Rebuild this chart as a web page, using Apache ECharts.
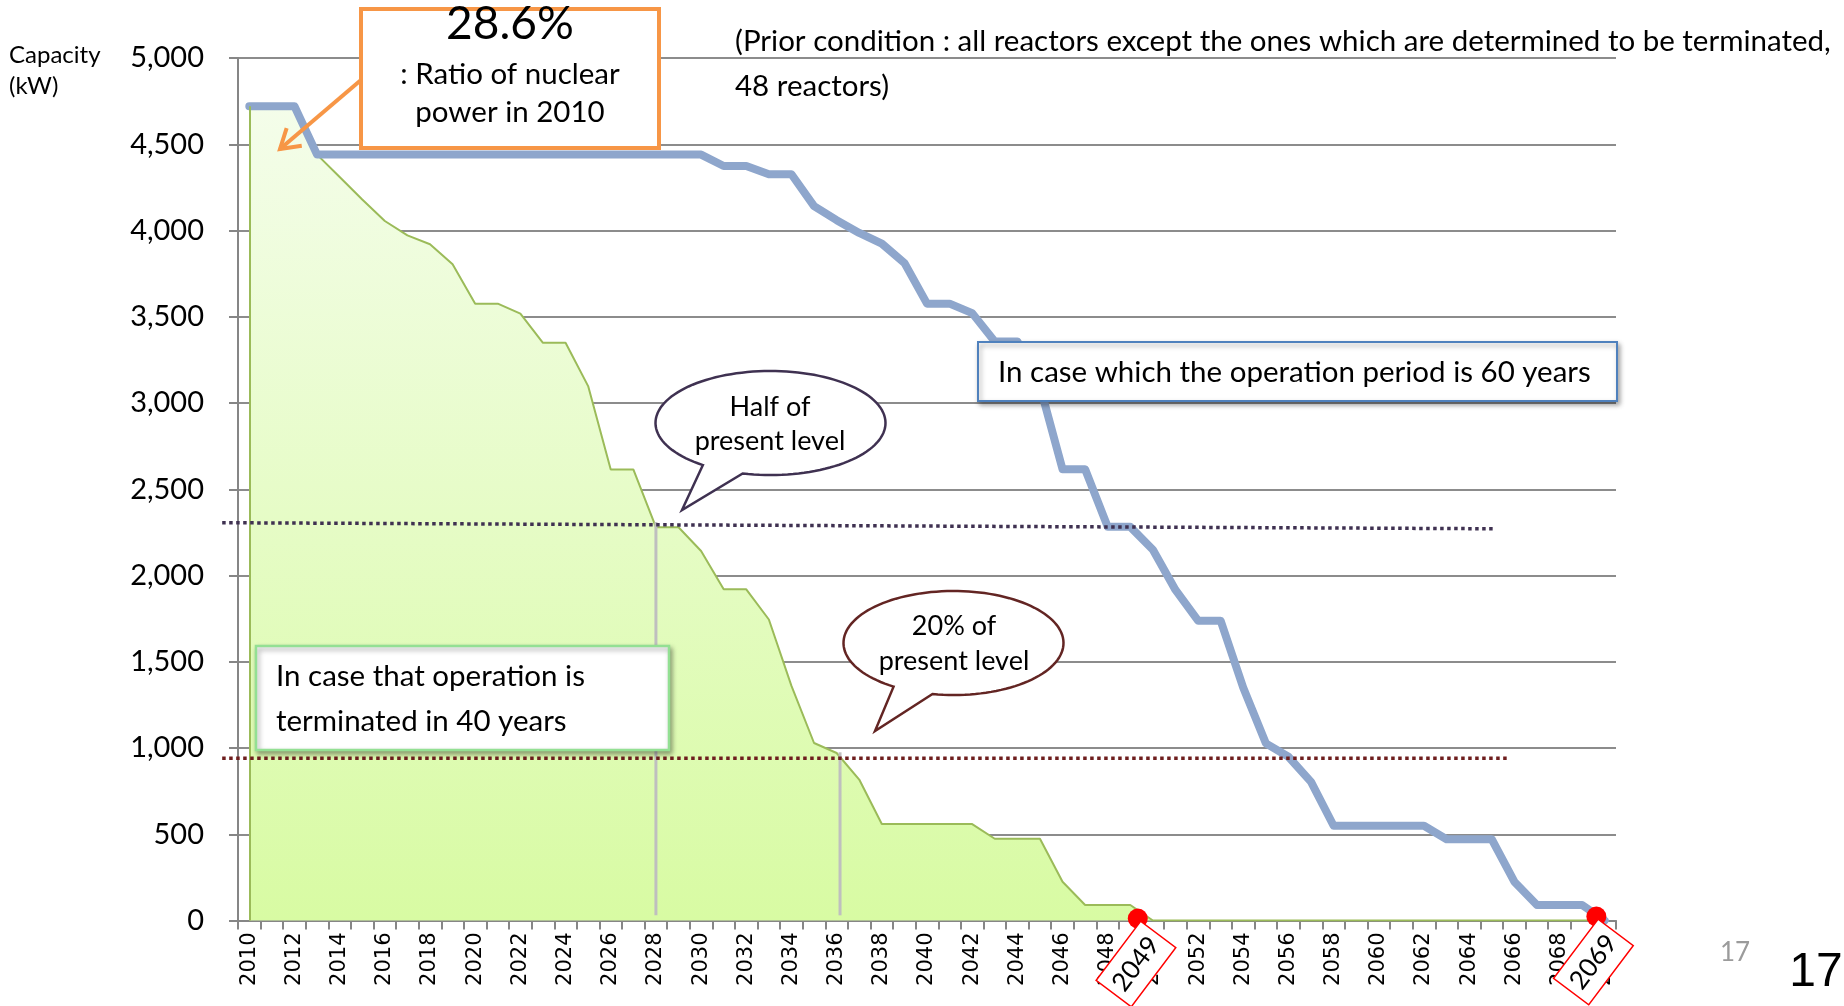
<!DOCTYPE html>
<html>
<head>
<meta charset="utf-8">
<title>Nuclear capacity outlook</title>
<script src="https://cdn.jsdelivr.net/npm/echarts@6/dist/echarts.min.js"></script>
<style>
  html, body { margin: 0; padding: 0; background: #fff; }
  #chart { width: 1844px; height: 1006px; }
</style>
</head>
<body>
<div id="chart"></div>
<script>
// fiscal years on the x axis
const years = [
  "2010", "2011", "2012", "2013", "2014", "2015", "2016", "2017", "2018", "2019",
  "2020", "2021", "2022", "2023", "2024", "2025", "2026", "2027", "2028", "2029",
  "2030", "2031", "2032", "2033", "2034", "2035", "2036", "2037", "2038", "2039",
  "2040", "2041", "2042", "2043", "2044", "2045", "2046", "2047", "2048", "2049",
  "2050", "2051", "2052", "2053", "2054", "2055", "2056", "2057", "2058", "2059",
  "2060", "2061", "2062", "2063", "2064", "2065", "2066", "2067", "2068", "2069",
  "2070"
];

// capacity when reactors run 60 years (blue line)
const capacity60 = [
  4720, 4720, 4720, 4440, 4440, 4440, 4440, 4440, 4440, 4440,
  4440, 4440, 4440, 4440, 4440, 4440, 4440, 4440, 4440, 4440,
  4440, 4374, 4374, 4326, 4326, 4141, 4060, 3986, 3924, 3812,
  3576, 3576, 3521, 3357, 3357, 3098, 2616, 2616, 2282, 2282,
  2149, 1916, 1738, 1738, 1349, 1027, 949, 804, 549, 549,
  549, 549, 549, 471, 471, 471, 225, 90, 90, 90,
  0
];

// capacity when reactors stop after 40 years (green area)
const capacity40 = [
  4720, 4720, 4720, 4440, 4310, 4180, 4055, 3972, 3920, 3804,
  3576, 3576, 3518, 3349, 3349, 3098, 2615, 2615, 2280, 2280,
  2142, 1920, 1920, 1745, 1360, 1029, 971, 817, 559, 559,
  559, 559, 559, 474, 474, 474, 225, 90, 90, 90,
  0, 0, 0, 0, 0, 0, 0, 0, 0, 0,
  0, 0, 0, 0, 0, 0, 0, 0, 0, 0,
  0
];

// y axis ticks
const yMax = 5000;
const yStep = 500;

// reference levels (half / 20% of present level)
const halfLevel = [2306, 2271];
const twentyLevel = 940;

const FONT = "Lato";
const BODY = 29.5;
const chart = echarts.init(document.getElementById("chart"));

const option = {
  animation: false,
  backgroundColor: "#fff",
  grid: {
    left: 238,
    right: 228,
    top: 58,
    bottom: 85.5,
    containLabel: false,
    outerBoundsMode: "none",
  },
  xAxis: {
    type: "category",
    data: years,
    boundaryGap: true,
    axisLine: { lineStyle: { color: "#868686", width: 2 } },
    axisTick: {
      show: true,
      interval: 0,
      length: 9,
      lineStyle: { color: "#868686", width: 2 },
    },
    axisLabel: {
      interval: 1,
      rotate: 90,
      margin: 12,
      fontFamily: "DejaVu Sans",
      fontSize: 21,
      color: "#000",
    },
    splitLine: { show: false },
  },
  yAxis: {
    type: "value",
    min: 0,
    max: yMax,
    interval: yStep,
    axisLine: { show: true, lineStyle: { color: "#868686", width: 2 } },
    axisTick: { show: true, length: 9, lineStyle: { color: "#868686", width: 2 } },
    axisLabel: {
      margin: 34,
      fontFamily: FONT,
      fontSize: 29,
      color: "#000",
      formatter: function (v) {
        return v.toLocaleString("en-US");
      },
    },
    splitLine: { lineStyle: { color: "#8C8C8C", width: 2 } },
  },
  series: [
    {
      name: "40 years",
      type: "line",
      data: capacity40,
      symbol: "none",
      z: 2,
      lineStyle: { color: "#9BBB59", width: 2 },
      areaStyle: {
        opacity: 1,
        color: new echarts.graphic.LinearGradient(0, 0, 0, 1, [
          { offset: 0, color: "#F4FDEA" },
          { offset: 1, color: "#D8FBA3" },
        ]),
      },
      markLine: {
        silent: true,
        symbol: "none",
        label: { show: false },
        lineStyle: { color: "#9BBB59", width: 2, type: "solid" },
        data: [[{ coord: [years[0], 0] }, { coord: [years[0], capacity40[0]] }]],
      },
    },
    {
      name: "60 years",
      type: "line",
      data: capacity60,
      symbol: "none",
      z: 3,
      lineStyle: { color: "#8EA6CC", width: 8, cap: "round", join: "round" },
    },
  ],
};

chart.setOption(option);

// pixel helpers built on the chart's own scales
const x0 = chart.convertToPixel({ xAxisIndex: 0 }, years[0]);
const x1 = chart.convertToPixel({ xAxisIndex: 0 }, years[years.length - 1]);
function xAt(i) {
  return x0 + ((x1 - x0) * i) / (years.length - 1);
}
function yAt(v) {
  return chart.convertToPixel({ yAxisIndex: 0 }, v);
}

function txt(x, y, text, size, opts) {
  opts = opts || {};
  return {
    type: "text",
    z: 110,
    x: x,
    y: y,
    style: {
      text: text,
      fontFamily: opts.family || FONT,
      fontSize: size,
      fill: opts.color || "#000",
      textAlign: opts.align || "left",
      textVerticalAlign: "middle",
    },
  };
}

function bubble(cx, cy, rx, ry, a1, a2, tip, color) {
  const pts = [];
  const n = 120;
  for (let k = 0; k <= n; k++) {
    const a = ((a2 + ((a1 + 360 - a2) * k) / n) * Math.PI) / 180;
    pts.push([cx + rx * Math.cos(a), cy + ry * Math.sin(a)]);
  }
  pts.push(tip);
  return {
    type: "polygon",
    z: 100,
    shape: { points: pts },
    style: { fill: "#fff", stroke: color, lineWidth: 2.5 },
  };
}

function diamond(cx, cy, label) {
  return {
    type: "group",
    x: cx,
    y: cy,
    rotation: (53 * Math.PI) / 180,
    z: 120,
    children: [
      {
        type: "rect",
        z: 120,
        shape: { x: -37, y: -22, width: 74, height: 44 },
        style: { fill: "#fff", stroke: "#FF0000", lineWidth: 1.5 },
      },
      {
        type: "text",
        z: 121,
        style: {
          text: label,
          fontFamily: FONT,
          fontSize: 26,
          fill: "#000",
          textAlign: "center",
          textVerticalAlign: "middle",
        },
      },
    ],
  };
}

// orange arrow from the box to the 2010 level
const arrowFrom = [361, 80];
const arrowTo = [280, 149];
const dx = arrowTo[0] - arrowFrom[0];
const dy = arrowTo[1] - arrowFrom[1];
const len = Math.sqrt(dx * dx + dy * dy);
const ux = dx / len;
const uy = dy / len;
function headPt(sign) {
  const ang = (sign * 32 * Math.PI) / 180;
  const rx = ux * Math.cos(ang) - uy * Math.sin(ang);
  const ry = ux * Math.sin(ang) + uy * Math.cos(ang);
  return [arrowTo[0] - rx * 22, arrowTo[1] - ry * 22];
}

const shadow = {
  shadowBlur: 5,
  shadowOffsetX: 2,
  shadowOffsetY: 3,
  shadowColor: "rgba(0,0,0,0.35)",
};

const graphic = [
  // grey drop lines at the crossing points
  {
    type: "line",
    z: 50,
    shape: { x1: xAt(18), y1: yAt(2310), x2: xAt(18), y2: yAt(30) },
    style: { stroke: "#BFBFBF", lineWidth: 3 },
  },
  {
    type: "line",
    z: 50,
    shape: { x1: xAt(26.15), y1: yAt(975), x2: xAt(26.15), y2: yAt(30) },
    style: { stroke: "#BFBFBF", lineWidth: 3 },
  },
  // dotted reference levels
  {
    type: "line",
    z: 60,
    shape: { x1: xAt(-1.2), y1: yAt(halfLevel[0]), x2: xAt(55.05), y2: yAt(halfLevel[1]) },
    style: { stroke: "#3F3151", lineWidth: 3.5, lineDash: [3.5, 3.5] },
  },
  {
    type: "line",
    z: 60,
    shape: { x1: xAt(-1.2), y1: yAt(twentyLevel), x2: xAt(55.7), y2: yAt(twentyLevel) },
    style: { stroke: "#6E1E1E", lineWidth: 3.5, lineDash: [3.5, 3.5] },
  },
  // end points of both scenarios
  {
    type: "circle",
    z: 115,
    shape: { cx: xAt(39.33), cy: yAt(0) - 2, r: 10 },
    style: { fill: "#FF0000" },
  },
  {
    type: "circle",
    z: 115,
    shape: { cx: xAt(59.63), cy: yAt(0) - 4, r: 10 },
    style: { fill: "#FF0000" },
  },
  diamond(xAt(39.25), 964, "2049"),
  diamond(xAt(59.5), 962, "2069"),

  // orange callout
  {
    type: "rect",
    z: 100,
    shape: { x: 361, y: 9, width: 298, height: 139 },
    style: { fill: "#fff", stroke: "#F79646", lineWidth: 4 },
  },
  txt(510, 24, "28.6%", 46, { align: "center" }),
  txt(510, 74, ": Ratio of nuclear", BODY, { align: "center" }),
  txt(510, 112, "power in 2010", BODY, { align: "center" }),
  {
    type: "polyline",
    z: 105,
    shape: { points: [arrowFrom, arrowTo] },
    style: { stroke: "#F79646", lineWidth: 4 },
  },
  {
    type: "polyline",
    z: 105,
    shape: { points: [headPt(1), arrowTo, headPt(-1)] },
    style: { stroke: "#F79646", lineWidth: 4, fill: null },
  },

  // prior condition note
  txt(735, 41, "(Prior condition : all reactors except the ones which are determined to be terminated,", BODY),
  txt(735, 86, "48 reactors)", BODY),

  // 60-year label box
  {
    type: "rect",
    z: 100,
    shape: { x: 978, y: 342, width: 639, height: 59 },
    style: Object.assign({ fill: "#fff", stroke: "#4F81BD", lineWidth: 2 }, shadow),
  },
  txt(998, 372, "In case which the operation period is 60 years", BODY),

  // 40-year label box
  {
    type: "rect",
    z: 100,
    shape: { x: 256, y: 646, width: 413, height: 104 },
    style: Object.assign({ fill: "#fff", stroke: "#93E093", lineWidth: 2.5 }, shadow),
  },
  txt(276, 676, "In case that operation is", BODY),
  txt(276, 721, "terminated in 40 years", BODY),

  // speech bubbles
  bubble(770.5, 423, 115, 52, 104, 126, [682, 510], "#3F3151"),
  txt(770, 407, "Half of", 27, { align: "center" }),
  txt(770, 441, "present level", 27, { align: "center" }),
  bubble(953.5, 643, 110, 52, 101, 123, [875, 731], "#632523"),
  txt(954, 626, "20% of", 27, { align: "center" }),
  txt(954, 661, "present level", 27, { align: "center" }),

  // axis name
  txt(9, 55, "Capacity", 24),
  txt(9, 86, "(kW)", 24),

  // page numbers
  txt(1735, 953, "17", 26, { align: "center", color: "#9B9B9B" }),
  txt(1816, 973, "17", 48, { align: "center", family: "Liberation Sans" }),
];

chart.setOption({ graphic: graphic });
</script>
</body>
</html>
